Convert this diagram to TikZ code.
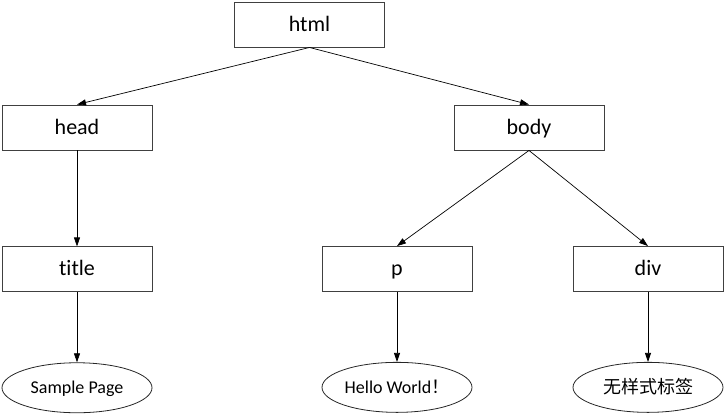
\documentclass[tikz,border=0pt]{standalone}
\usepackage{fontspec}
\setmainfont{Carlito}[Ligatures=NoCommon]
\newfontfamily\cjk{Noto Sans CJK SC}
\usetikzlibrary{positioning, arrows.meta, shapes.geometric}

\tikzset{
    tag/.style={draw=black!75, line width=0.9pt, minimum width=150pt,
        minimum height=45pt, text height=16pt, text depth=3pt,
        font=\fontsize{22}{26}\selectfont},
    leaf/.style={draw=black!85, ellipse, line width=0.8pt, minimum width=150pt,
        minimum height=50pt, inner sep=0pt, text height=14pt, text depth=2.6pt,
        font=\fontsize{18}{22}\selectfont},
    link/.style={line width=0.7pt, -{Triangle[length=9pt,width=6pt]}}
}

\begin{document}
\begin{tikzpicture}
\useasboundingbox (0pt,0pt) rectangle (725pt,-416pt);
\node[tag] (html) at (309.5pt,-24.5pt) {html};
\node[tag] (head) at (77pt,-127.5pt) {head};
\node[tag] (body) at (529pt,-127.5pt) {body};
\node[tag, below=96pt of head] (title) {title};
\node[tag] (p) at (397pt,-269pt) {p};
\node[tag] (div) at (648pt,-269pt) {div};
\node[leaf, below=70pt of title] (sample) {Sample Page};
\node[leaf, below=70pt of p] (hello) {Hello World{\cjk ！}};
\node[leaf, below=70pt of div] (nostyle) {\cjk 无样式标签};
\path
    (html.south) edge[link] (head.north)
    (html.south) edge[link] (body.north)
    (head.south) edge[link] (title.north)
    (body.south) edge[link] (p.north)
    (body.south) edge[link] (div.north)
    (title.south) edge[link] (sample.north)
    (p.south) edge[link] (hello.north)
    (div.south) edge[link] (nostyle.north);
\end{tikzpicture}
\end{document}
